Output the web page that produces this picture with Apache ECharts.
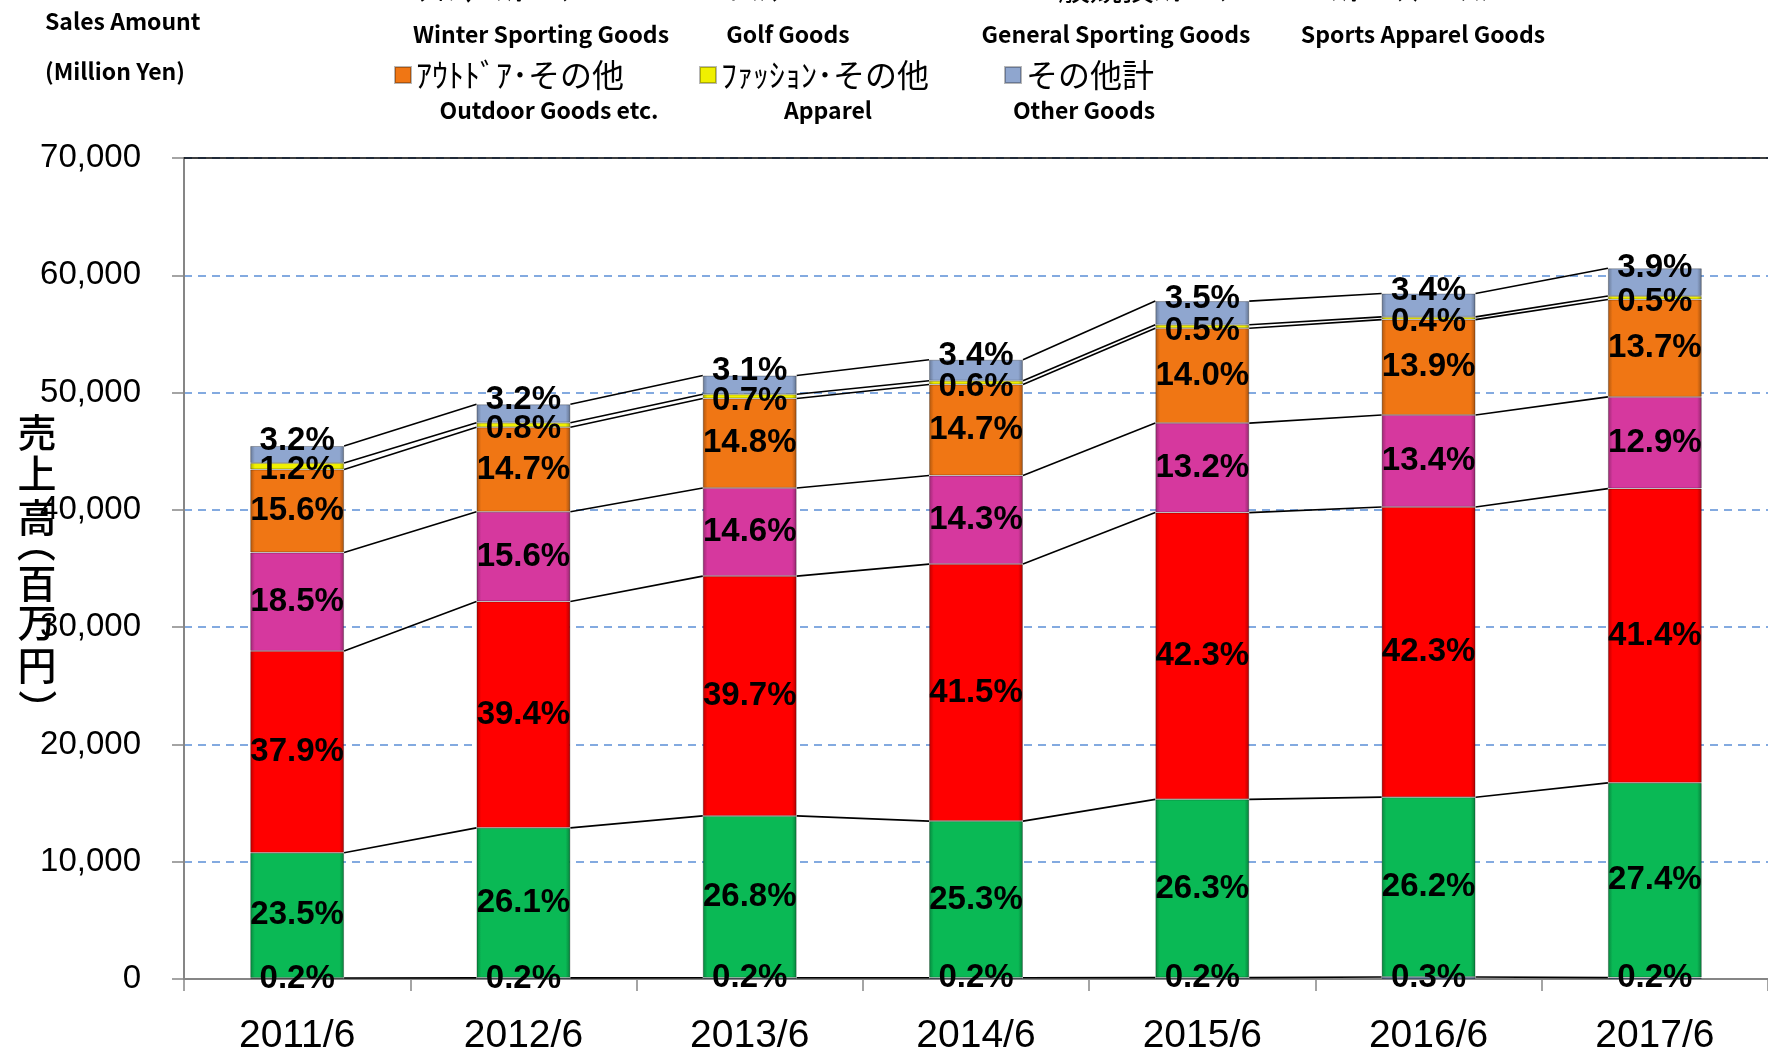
<!DOCTYPE html>
<html><head><meta charset="utf-8">
<script src="https://cdn.jsdelivr.net/npm/echarts@6/dist/echarts.min.js"></script>
<style>html,body{margin:0;padding:0;background:#fff}#chart{width:1768px;height:1059px}</style>
</head><body><div id="chart"></div>
<script>
// ---- data ----
const categories = ['2011/6','2012/6','2013/6','2014/6','2015/6','2016/6','2017/6'];
const seriesNames = ['ｳｲﾝﾀｰｽﾎﾟｰﾂ','ｺﾞﾙﾌ','一般競技ｽﾎﾟｰﾂ','ｽﾎﾟｰﾂｱﾊﾟﾚﾙ','ｱｳﾄﾄﾞｱ･その他','ﾌｧｯｼｮﾝ･その他','その他計'];
const englishNames = ['Winter Sporting Goods','Golf Goods','General Sporting Goods','Sports Apparel Goods','Outdoor Goods etc.','Apparel','Other Goods'];
const winterSales  = [91, 98, 103, 106, 116, 176, 121];
const golfSales    = [10669, 12789, 13802, 13358, 15201, 15327, 16604];
const generalSales = [17207, 19306, 20446, 21912, 24449, 24746, 25088];
const apparelSales = [8399, 7644, 7519, 7550, 7630, 7839, 7817];
const outdoorSales = [7082, 7203, 7622, 7762, 8092, 8132, 8302];
const fashionSales = [545, 392, 361, 317, 289, 234, 303];
const otherSales   = [1453, 1568, 1597, 1795, 2023, 1989, 2363];
const winterShare  = [0.2, 0.2, 0.2, 0.2, 0.2, 0.3, 0.2];
const golfShare    = [23.5, 26.1, 26.8, 25.3, 26.3, 26.2, 27.4];
const generalShare = [37.9, 39.4, 39.7, 41.5, 42.3, 42.3, 41.4];
const apparelShare = [18.5, 15.6, 14.6, 14.3, 13.2, 13.4, 12.9];
const outdoorShare = [15.6, 14.7, 14.8, 14.7, 14.0, 13.9, 13.7];
const fashionShare = [1.2, 0.8, 0.7, 0.6, 0.5, 0.4, 0.5];
const otherShare   = [3.2, 3.2, 3.1, 3.4, 3.5, 3.4, 3.9];
const yMin = 0, yMax = 70000, yStep = 10000;
const yAxisTitleChars = ['売','上','高','（','百','万','円','）'];

// ---- build ----
const salesList = [winterSales, golfSales, generalSales, apparelSales, outdoorSales, fashionSales, otherSales];
const shareList = [winterShare, golfShare, generalShare, apparelShare, outdoorShare, fashionShare, otherShare];
const baseColors = ['#3A66B0', '#0AB955', '#FF0000', '#D6389E', '#F07614', '#F0F000', '#8FA6CF'];
const labelOffsets = [[0,0],[0,0],[0,0],[0,0],[0,0],[0,4],[0,-14]];
const barRatio = 0.415;
const titleY = [432, 473, 517, 543, 583, 622, 665, 709];

function shade(hex, f) {
  const n = parseInt(hex.slice(1), 16);
  const r = Math.round(((n >> 16) & 255) * f), g = Math.round(((n >> 8) & 255) * f), b = Math.round((n & 255) * f);
  return 'rgb(' + Math.min(255,r) + ',' + Math.min(255,g) + ',' + Math.min(255,b) + ')';
}
function grad(hex) {
  return new echarts.graphic.LinearGradient(0, 0, 1, 0, [
    {offset: 0, color: shade(hex, 0.72)},
    {offset: 0.05, color: hex},
    {offset: 0.95, color: hex},
    {offset: 1, color: shade(hex, 0.68)}
  ]);
}

// cumulative tops for series lines
const cumTops = [];
let running = categories.map(() => 0);
salesList.forEach(arr => {
  running = running.map((v, i) => v + arr[i]);
  cumTops.push(running.slice());
});

const series = salesList.map((arr, k) => ({
  name: seriesNames[k],
  type: 'bar',
  stack: 'total',
  barWidth: (barRatio * 100) + '%',
  data: arr,
  itemStyle: {color: grad(baseColors[k]), borderColor: 'rgba(0,0,0,0.28)', borderWidth: 1},
  label: {
    show: true, position: 'inside', offset: labelOffsets[k],
    formatter: p => shareList[k][p.dataIndex].toFixed(1) + '%',
    fontFamily: 'Liberation Sans', fontWeight: 'bold', fontSize: 33, color: '#000'
  },
  emphasis: {disabled: true}
}));

series.push({
  type: 'custom',
  name: 'lines',
  silent: true,
  data: categories.slice(0, -1).map((c, i) => [i, 0]),
  encode: {x: 0, y: 1},
  renderItem: function (params, api) {
    const i = api.value(0);
    const half = api.size([1, 0])[0] * barRatio / 2;
    return {
      type: 'group',
      children: cumTops.map(arr => {
        const a = api.coord([i, arr[i]]);
        const b = api.coord([i + 1, arr[i + 1]]);
        return {type: 'line', shape: {x1: a[0] + half, y1: a[1], x2: b[0] - half, y2: b[1]},
                style: {stroke: '#000', lineWidth: 1.6}};
      })
    };
  },
  z: 3
});

const legendText = {fontFamily: 'Noto Sans CJK JP', fontSize: 32, lineHeight: 32, color: '#000', width: 263, overflow: 'none'};
const enFont = {fontFamily: 'Noto Sans CJK JP', fontWeight: 'bold', fontSize: 23, fill: '#000'};
const enPos = [[541, 34], [788, 34], [1116, 34], [1423, 34], [549, 110], [828, 110], [1084, 110]];

const graphic = englishNames.map((t, i) => ({
  type: 'text', x: enPos[i][0], y: enPos[i][1],
  style: Object.assign({text: t, textAlign: 'center', textVerticalAlign: 'middle'}, enFont)
}));
graphic.push({type: 'text', x: 45, y: 21, style: Object.assign({text: 'Sales Amount', textAlign: 'left', textVerticalAlign: 'middle'}, enFont)});
graphic.push({type: 'text', x: 45, y: 71, style: Object.assign({text: '(Million Yen)', textAlign: 'left', textVerticalAlign: 'middle'}, enFont)});
// vertical axis title: stacked characters, parentheses turned to vertical form
yAxisTitleChars.forEach((ch, i) => {
  let rot = 0;
  if (ch === '（') rot = -Math.PI / 2;
  if (ch === '）') rot = Math.PI / 2;
  graphic.push({type: 'text', x: 37, y: titleY[i], z: 100,
    rotation: rot,
    style: {text: ch === '）' ? '（' : ch, textAlign: 'center', textVerticalAlign: 'middle',
            fontFamily: 'Noto Sans CJK JP', fontWeight: 500, fontSize: 39, fill: '#000'}});
});

const option = {
  animation: false,
  backgroundColor: '#fff',
  grid: {left: 184, right: -3, top: 158, bottom: 80, containLabel: false},
  legend: [
    {data: seriesNames.slice(0, 4), left: 389, top: -33, itemWidth: 16, itemHeight: 16, itemGap: 20, icon: 'rect',
     textStyle: legendText, selectedMode: false},
    {data: seriesNames.slice(4), left: 389, top: 54, itemWidth: 16, itemHeight: 16, itemGap: 20, icon: 'rect',
     textStyle: legendText, selectedMode: false}
  ],
  xAxis: [
    {type: 'category', data: categories, position: 'bottom',
     axisLine: {lineStyle: {color: '#868686', width: 2}},
     axisTick: {show: true, length: 12, lineStyle: {color: '#868686', width: 1.5}},
     axisLabel: {fontFamily: 'Liberation Sans', fontSize: 39, color: '#000', margin: 38}},
    {type: 'category', data: categories, position: 'top',
     axisLine: {lineStyle: {color: '#000', width: 1.5}}, axisTick: {show: false}, axisLabel: {show: false}}
  ],
  yAxis: {
    type: 'value', min: yMin, max: yMax, interval: yStep,
    axisLine: {show: true, lineStyle: {color: '#868686', width: 2}},
    axisTick: {show: true, length: 12, lineStyle: {color: '#868686', width: 1.5}},
    axisLabel: {fontFamily: 'Liberation Sans', fontSize: 33, color: '#000', margin: 43,
                formatter: v => v.toLocaleString('en-US')},
    splitLine: {lineStyle: {color: '#5B8ED6', type: [8, 6], width: 1.5}}
  },
  graphic: graphic,
  series: series
};
const chart = echarts.init(document.getElementById('chart'), null, {renderer: 'canvas'});
chart.setOption(option);
</script></body></html>
